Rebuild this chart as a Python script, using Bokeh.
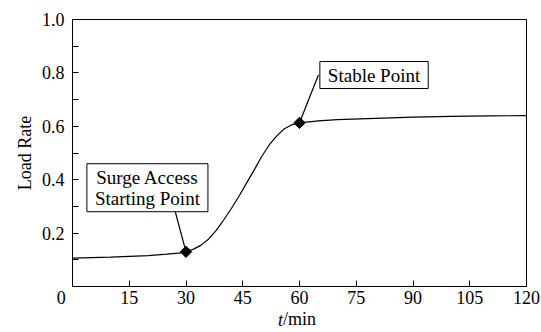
from bokeh.plotting import figure
from bokeh.models import FixedTicker, Label, Range1d, LinearAxis
from bokeh.embed import file_html
from bokeh.resources import INLINE

# data
t_min = [0, 5, 10, 15, 20, 25, 28, 30, 32, 34, 36, 38, 40, 42, 44, 46, 48, 50,
         52, 54, 56, 58, 60, 65, 70, 80, 90, 100, 110, 120]
load_rate = [0.106, 0.108, 0.110, 0.113, 0.116, 0.121, 0.125, 0.130, 0.140, 0.155,
             0.178, 0.210, 0.250, 0.292, 0.338, 0.387, 0.436, 0.487, 0.530, 0.564,
             0.591, 0.606, 0.613, 0.620, 0.625, 0.630, 0.634, 0.637, 0.639, 0.640]
key_t = [30, 60]
key_v = [0.130, 0.613]
key_names = ["Surge Access\nStarting Point", "Stable Point"]
x_ticks = [0, 15, 30, 45, 60, 75, 90, 105, 120]
y_ticks = [0.2, 0.4, 0.6, 0.8, 1.0]
y_minor = [0.1, 0.3, 0.5, 0.7, 0.9]

FONT = "Liberation Serif"
NB = "\u00a0"

p = figure(width=541, height=332, output_backend="svg", toolbar_location=None,
           x_range=Range1d(0, 120), y_range=Range1d(0, 1),
           min_border_left=72, min_border_right=15, min_border_top=19, min_border_bottom=0)
p.xgrid.visible = False
p.ygrid.visible = False
p.outline_line_color = "black"
p.outline_line_width = 1
p.background_fill_color = "white"
p.border_fill_color = "white"

# leader lines
p.segment(x0=[27.2, 65.0], y0=[0.278, 0.792], x1=key_t, y1=key_v,
          line_color="black", line_width=1.2)
p.line(t_min, load_rate, line_color="black", line_width=1.2)
p.scatter(key_t, key_v, marker="square", angle=0.785398, size=8, color="black")

for ax in (p.xaxis[0], p.yaxis[0]):
    ax.axis_line_color = "black"
    ax.major_tick_in = 6
    ax.major_tick_out = 0
    ax.minor_tick_in = 6
    ax.minor_tick_out = 0
    ax.major_label_text_font = FONT
    ax.major_label_text_font_size = "18px"
    ax.major_label_text_color = "black"
    ax.major_tick_line_color = "black"
    ax.minor_tick_line_color = "black"
    ax.axis_label_text_font = FONT
    ax.axis_label_text_font_size = "18px"
    ax.axis_label_text_font_style = "normal"
    ax.axis_label_text_color = "black"

p.xaxis.ticker = FixedTicker(ticks=x_ticks)
p.xaxis.major_label_overrides = {0: "0" + NB * 5}
p.xaxis.minor_tick_line_color = None
p.xaxis.major_label_standoff = 1
p.xaxis.axis_label = "/min"
p.xaxis.axis_label_standoff = -2
p.yaxis.ticker = FixedTicker(ticks=y_ticks, minor_ticks=y_minor)
p.yaxis.major_label_overrides = {1: "1.0"}
p.yaxis.major_label_standoff = 8
p.yaxis.axis_label = "Load Rate"
p.yaxis.axis_label_standoff = 4

# italic "t" of the x-axis title, sharing the row of "/min"
t_axis = LinearAxis(ticker=FixedTicker(ticks=[55]), major_label_overrides={55: "t"},
                    axis_line_color=None, major_tick_line_color=None,
                    minor_tick_line_color=None, major_tick_in=0, major_tick_out=0,
                    major_label_standoff=-22, major_label_text_font=FONT,
                    major_label_text_font_size="18px", major_label_text_font_style="italic",
                    major_label_text_color="black")
p.add_layout(t_axis, "below")

# annotations
box_pos = [(19.8, 0.37), (79.7, 0.792)]
for (bx, by), name in zip(box_pos, key_names):
    p.add_layout(Label(x=bx, y=by, text=name, text_align="center", text_baseline="middle",
                       text_font=FONT, text_font_size="19px", text_line_height=1.0,
                       text_color="black",
                       border_line_color="black", border_line_width=1,
                       background_fill_color="white", padding=(8, 3)))

open("out.html", "w").write(file_html(p, INLINE))
